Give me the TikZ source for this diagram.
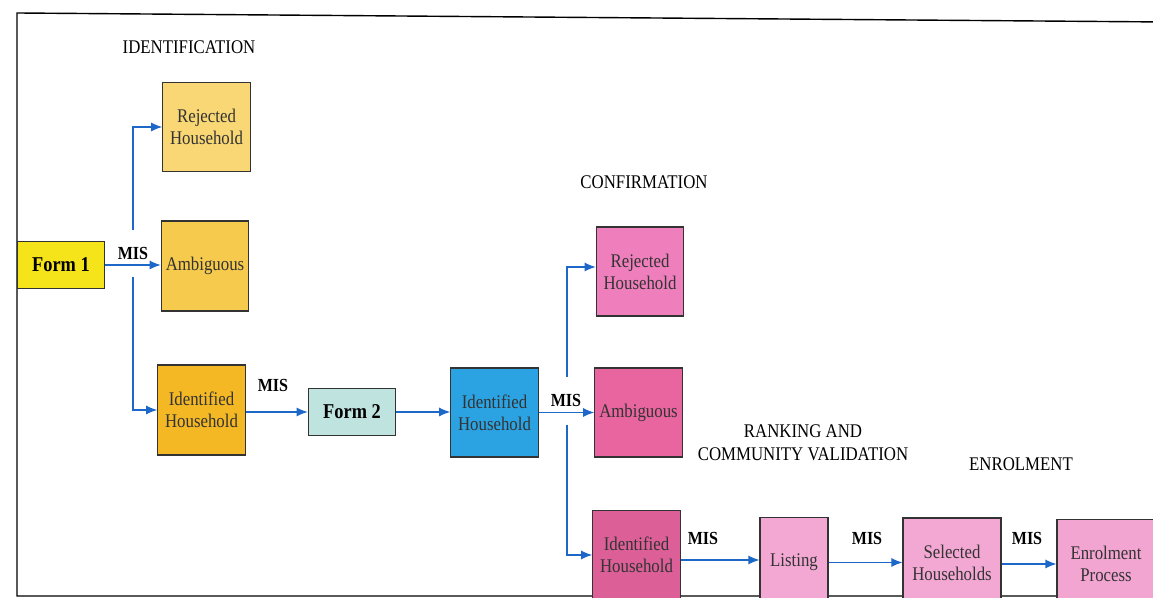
\documentclass[tikz,border=0pt]{standalone}
\usepackage{fontspec}
\setmainfont{Liberation Serif}[FakeStretch=0.87]
\usetikzlibrary{arrows.meta}

\definecolor{formone}{HTML}{F5E41A}
\definecolor{goldlight}{HTML}{F8D774}
\definecolor{goldmid}{HTML}{F6CA4C}
\definecolor{golddeep}{HTML}{F4B824}
\definecolor{formtwo}{HTML}{BFE4E0}
\definecolor{skyblue}{HTML}{2BA3E3}
\definecolor{pinkrej}{HTML}{EE7FBC}
\definecolor{pinkamb}{HTML}{E8659F}
\definecolor{pinkdeep}{HTML}{DC5F98}
\definecolor{pinklight}{HTML}{F3A8D4}
\definecolor{flowblue}{HTML}{1D67C8}

\begin{document}
\begin{tikzpicture}[
        box/.style={draw=black!80, line width=0.6pt, minimum width=1.75cm, minimum height=1.78cm,
            align=center, inner sep=1pt, text=black!80, font=\fontsize{11}{12.5}\selectfont},
        formbox/.style={box, minimum height=0.94cm, text=black, font=\fontsize{12}{14}\selectfont\bfseries},
        mis/.style={font=\fontsize{10.5}{12}\selectfont\bfseries},
        stage/.style={align=center, font=\fontsize{11}{13}\selectfont},
        flow/.style={draw=flowblue, line width=0.7pt, -{Latex[length=2.2mm,width=1.8mm]}}
    ]

    \useasboundingbox (0, 0) rectangle (23.06, 11.96);

    %% frame
    \draw[line width=0.8pt] (23.3, 0.04) -- (0.34, 0.04) -- (0.34, 11.70) -- (23.3, 11.52);

    %% identification
    \node[stage] at(3.78, 11.02)(hid){IDENTIFICATION};
    \node[formbox, fill=formone] at(1.22, 6.66)(form1){Form 1};
    \node[box, fill=goldlight] at(4.13, 9.42)(rej1){Rejected\\Household};
    \node[box, fill=goldmid, minimum height=1.8cm] at(4.10, 6.64)(amb1){Ambiguous};
    \node[box, fill=golddeep, minimum height=1.8cm] at(4.03, 3.76)(idh1){Identified\\Household};
    \node[formbox, fill=formtwo] at(7.04, 3.72)(form2){Form 2};
    \node[box, fill=skyblue] at(9.89, 3.71)(idh2){Identified\\Household};

    %% confirmation
    \node[stage] at(12.88, 8.32)(hconf){CONFIRMATION};
    \node[box, fill=pinkrej] at(12.80, 6.53)(rej2){Rejected\\Household};
    \node[box, fill=pinkamb] at(12.77, 3.71)(amb2){Ambiguous};
    \node[box, fill=pinkdeep] at(12.73, 0.86)(idh3){Identified\\Household};

    %% ranking and enrolment
    \node[stage] at(16.06, 3.10)(hrank){RANKING AND\\COMMUNITY VALIDATION};
    \node[stage] at(20.42, 2.68)(henrol){ENROLMENT};
    \node[box, fill=pinklight, minimum width=1.36cm] at(15.88, 0.72)(listing){Listing};
    \node[box, fill=pinklight, minimum width=1.96cm] at(19.04, 0.71)(selected){Selected\\Households};
    \node[box, fill=pinklight!92!pinkrej, minimum width=1.96cm] at(22.12, 0.68)(enrol){Enrolment\\Process};

    %% branch points
    \coordinate (up1) at(2.66, 7.36);
    \coordinate (down1) at(2.66, 6.42);
    \coordinate (up2) at(11.34, 4.42);
    \coordinate (down2) at(11.34, 3.46);

    %% arrows
    \draw[flow] (form1.east) -- (form1.east -| amb1.west);
    \draw[flow] (up1) |- (rej1.west);
    \draw[flow] (down1) |- (idh1.west);
    \draw[flow] (idh1.east |- form2.west) -- (form2.west);
    \draw[flow] (form2.east) -- (form2.east -| idh2.west);
    \draw[flow] (idh2.east) -- (idh2.east -| amb2.west);
    \draw[flow] (up2) |- ([yshift=0.09cm]rej2.west);
    \draw[flow] (down2) |- (idh3.west);
    \draw[flow] ([yshift=0.04cm]idh3.east |- listing.west) -- ([yshift=0.04cm]listing.west);
    \draw[flow] (listing.east |- selected.west) -- (selected.west);
    \draw[flow] (selected.east |- enrol.west) -- (enrol.west);

    %% MIS labels
    \node[mis] at(2.66, 6.90)(m1){MIS};
    \node[mis] at(5.46, 4.26)(m2){MIS};
    \node[mis] at(11.32, 3.96)(m3){MIS};
    \node[mis] at(14.06, 1.20)(m4){MIS};
    \node[mis] at(17.34, 1.20)(m5){MIS};
    \node[mis] at(20.54, 1.20)(m6){MIS};

\end{tikzpicture}
\end{document}
